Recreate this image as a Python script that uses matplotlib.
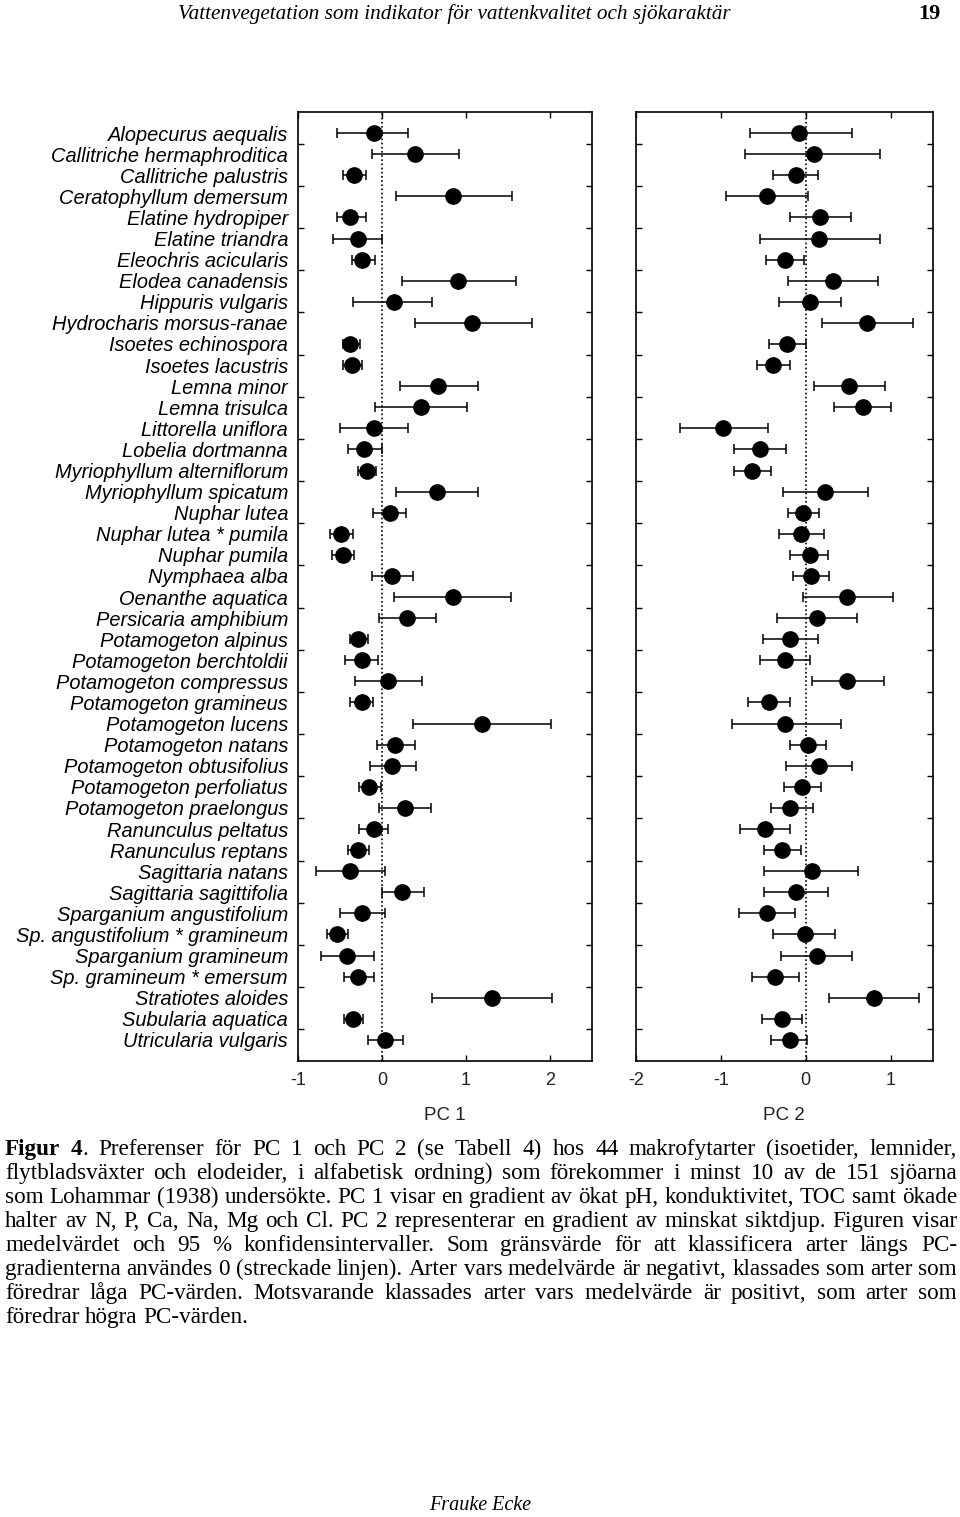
import numpy as np
import matplotlib
matplotlib.use("Agg")
import matplotlib.pyplot as plt

# ── Data ──────────────────────────────────────────────────────────────────────

species = [
    "Alopecurus aequalis", "Callitriche hermaphroditica", "Callitriche palustris",
    "Ceratophyllum demersum", "Elatine hydropiper", "Elatine triandra",
    "Eleochris acicularis", "Elodea canadensis", "Hippuris vulgaris",
    "Hydrocharis morsus-ranae", "Isoetes echinospora", "Isoetes lacustris",
    "Lemna minor", "Lemna trisulca", "Littorella uniflora", "Lobelia dortmanna",
    "Myriophyllum alterniflorum", "Myriophyllum spicatum", "Nuphar lutea",
    "Nuphar lutea * pumila", "Nuphar pumila", "Nymphaea alba",
    "Oenanthe aquatica", "Persicaria amphibium", "Potamogeton alpinus",
    "Potamogeton berchtoldii", "Potamogeton compressus", "Potamogeton gramineus",
    "Potamogeton lucens", "Potamogeton natans", "Potamogeton obtusifolius",
    "Potamogeton perfoliatus", "Potamogeton praelongus", "Ranunculus peltatus",
    "Ranunculus reptans", "Sagittaria natans", "Sagittaria sagittifolia",
    "Sparganium angustifolium", "Sp. angustifolium * gramineum",
    "Sparganium gramineum", "Sp. gramineum * emersum", "Stratiotes aloides",
    "Subularia aquatica", "Utricularia vulgaris",
]

pc1_mean = [-0.10, 0.39, -0.33, 0.84, -0.38, -0.29, -0.24, 0.90, 0.14, 1.07,
            -0.38, -0.36, 0.67, 0.46, -0.09, -0.21, -0.18, 0.65, 0.09, -0.49,
            -0.47, 0.12, 0.84, 0.30, -0.29, -0.24, 0.07, -0.24, 1.19, 0.16,
            0.12, -0.15, 0.27, -0.10, -0.28, -0.38, 0.24, -0.24, -0.53, -0.42,
            -0.28, 1.31, -0.34, 0.03]
pc1_lo = [-0.53, -0.12, -0.47, 0.17, -0.54, -0.58, -0.36, 0.24, -0.34, 0.39,
          -0.46, -0.46, 0.21, -0.08, -0.50, -0.41, -0.29, 0.17, -0.11, -0.62,
          -0.59, -0.12, 0.14, -0.03, -0.38, -0.44, -0.32, -0.38, 0.37, -0.06,
          -0.14, -0.27, -0.03, -0.27, -0.41, -0.78, 0.00, -0.50, -0.65, -0.73,
          -0.45, 0.60, -0.45, -0.17]
pc1_hi = [0.31, 0.92, -0.19, 1.55, -0.19, 0.00, -0.08, 1.60, 0.60, 1.78,
          -0.26, -0.24, 1.14, 1.01, 0.31, 0.00, -0.07, 1.14, 0.29, -0.34,
          -0.33, 0.37, 1.54, 0.64, -0.17, -0.05, 0.48, -0.11, 2.01, 0.39,
          0.40, -0.01, 0.58, 0.07, -0.15, 0.03, 0.50, 0.03, -0.41, -0.09,
          -0.10, 2.02, -0.23, 0.25]

pc2_mean = [-0.08, 0.10, -0.12, -0.46, 0.17, 0.16, -0.24, 0.32, 0.05, 0.72,
            -0.22, -0.39, 0.51, 0.67, -0.97, -0.54, -0.63, 0.23, -0.03, -0.06,
            0.05, 0.06, 0.49, 0.13, -0.18, -0.25, 0.49, -0.43, -0.24, 0.03,
            0.16, -0.04, -0.18, -0.48, -0.28, 0.07, -0.12, -0.46, -0.01, 0.13,
            -0.36, 0.81, -0.28, -0.19]
pc2_lo = [-0.66, -0.71, -0.38, -0.94, -0.18, -0.54, -0.47, -0.21, -0.31, 0.19,
          -0.43, -0.57, 0.10, 0.33, -1.48, -0.85, -0.84, -0.27, -0.21, -0.31,
          -0.18, -0.15, -0.03, -0.34, -0.50, -0.54, 0.07, -0.68, -0.87, -0.18,
          -0.23, -0.26, -0.41, -0.77, -0.49, -0.49, -0.49, -0.79, -0.38, -0.29,
          -0.63, 0.28, -0.51, -0.41]
pc2_hi = [0.54, 0.88, 0.15, 0.03, 0.53, 0.87, -0.02, 0.85, 0.41, 1.27,
          0.00, -0.19, 0.93, 1.01, -0.45, -0.23, -0.41, 0.73, 0.16, 0.21,
          0.26, 0.28, 1.03, 0.60, 0.14, 0.05, 0.92, -0.18, 0.41, 0.24,
          0.54, 0.18, 0.08, -0.18, -0.06, 0.62, 0.26, -0.13, 0.35, 0.54,
          -0.08, 1.33, -0.04, 0.02]

pc1_ticks = [-1, 0, 1, 2]
pc2_ticks = [-2, -1, 0, 1]

header = "Vattenvegetation som indikator för vattenkvalitet och sjökaraktär"
page_no = "19"
footer = "Frauke Ecke"

caption_lines = [
    "Figur 4. Preferenser för PC 1 och PC 2 (se Tabell 4) hos 44 makrofytarter (isoetider, lemnider,",
    "flytbladsväxter och elodeider, i alfabetisk ordning) som förekommer i minst 10 av de 151 sjöarna",
    "som Lohammar (1938) undersökte. PC 1 visar en gradient av ökat pH, konduktivitet, TOC samt ökade",
    "halter av N, P, Ca, Na, Mg och Cl. PC 2 representerar en gradient av minskat siktdjup. Figuren visar",
    "medelvärdet och 95 % konfidensintervaller. Som gränsvärde för att klassificera arter längs PC-",
    "gradienterna användes 0 (streckade linjen). Arter vars medelvärde är negativt, klassades som arter som",
    "föredrar låga PC-värden. Motsvarande klassades arter vars medelvärde är positivt, som arter som",
    "föredrar högra PC-värden.",
]

# ── Figure ────────────────────────────────────────────────────────────────────

W, H = 960, 1517
fig = plt.figure(figsize=(W / 100, H / 100), dpi=100)
SANS = "Liberation Sans"
SERIF = "Liberation Serif"


def px(x, y):
    """pixel (from top-left) -> figure fraction"""
    return x / W, 1 - y / H


rows = np.arange(len(species))


def panel(left, right, mean, lo, hi, xlim, ticks, with_labels):
    ax = fig.add_axes([left / W, 1 - 1061 / H, (right - left) / W, (1061 - 112) / H])
    mean = np.array(mean)
    err = [mean - np.array(lo), np.array(hi) - mean]
    ax.errorbar(mean, rows, xerr=err, fmt="o", color="black", ms=11,
                elinewidth=1.1, capsize=3.3, capthick=1.1, zorder=3)
    ax.axvline(0, color="black", lw=1.2, ls=(0, (1, 1.5)), zorder=1)
    ax.set_xlim(*xlim)
    ax.set_ylim(len(species), -1)
    ax.set_xticks(ticks)
    ax.set_xticklabels([str(t) for t in ticks], family=SANS, fontsize=13,
                       color="#222222")
    ax.tick_params(axis="x", direction="in", top=True, length=4, width=1, pad=8)
    ax.set_yticks(rows)
    if with_labels:
        ax.set_yticklabels(species, family=SANS, style="italic", fontsize=14.4)
    else:
        ax.set_yticklabels([])
    ax.tick_params(axis="y", which="major", length=0, pad=7.2)
    ax.set_yticks(np.arange(0.5, len(species), 2), minor=True)
    ax.tick_params(axis="y", which="minor", direction="in", left=True,
                   right=True, length=4, width=1)
    for s in ax.spines.values():
        s.set_linewidth(1.2)
    return ax


ax1 = panel(298, 592, pc1_mean, pc1_lo, pc1_hi, (-1, 2.5), pc1_ticks, True)
ax2 = panel(636, 933, pc2_mean, pc2_lo, pc2_hi, (-2, 1.5), pc2_ticks, False)

fig.text(*px(445, 1116), "PC 1", ha="center", va="center", family=SANS,
         fontsize=13.5, color="#222222")
fig.text(*px(784, 1116), "PC 2", ha="center", va="center", family=SANS,
         fontsize=13.5, color="#222222")

# header / footer
fig.text(*px(454, 14), header, ha="center", va="center", family=SERIF,
         style="italic", fontsize=15.3)
fig.text(*px(929, 14), page_no, ha="center", va="center", family=SERIF,
         weight="bold", fontsize=16)
fig.text(*px(480, 1505), footer, ha="center", va="center", family=SERIF,
         style="italic", fontsize=14.5)

# ── Justified caption ────────────────────────────────────────────────────────

renderer = fig.canvas.get_renderer()
CAP_SIZE = 16.7
x_left, x_right = 5, 957
y0, dy = 1155, 24


def segments(word, first):
    if first and word == "Figur":
        return [("Figur", "bold")]
    if first and word == "4.":
        return [("4", "bold"), (".", "normal")]
    return [(word, "normal")]


# natural width of one space
t_a = fig.text(0, 0, "a a", family=SERIF, fontsize=CAP_SIZE)
t_b = fig.text(0, 0, "aa", family=SERIF, fontsize=CAP_SIZE)
space_w = (t_a.get_window_extent(renderer=renderer).width
           - t_b.get_window_extent(renderer=renderer).width)
t_a.remove()
t_b.remove()

for i, line in enumerate(caption_lines):
    words = line.split(" ")
    y = y0 + i * dy
    placed = []
    for w in words:
        segs = []
        for txt, wt in segments(w, i == 0):
            t = fig.text(0, 1 - y / H, txt, ha="left", va="baseline",
                         family=SERIF, fontsize=CAP_SIZE, weight=wt)
            wpx = t.get_window_extent(renderer=renderer).width
            segs.append((t, wpx))
        placed.append(segs)
    word_w = [sum(s[1] for s in segs) for segs in placed]
    last = i == len(caption_lines) - 1
    gap = space_w if last else (x_right - x_left - sum(word_w)) / (len(words) - 1)
    x = x_left
    for segs in placed:
        for t, wpx in segs:
            t.set_x(x / W)
            x += wpx
        x += gap

fig.savefig("out.png", dpi=100)
